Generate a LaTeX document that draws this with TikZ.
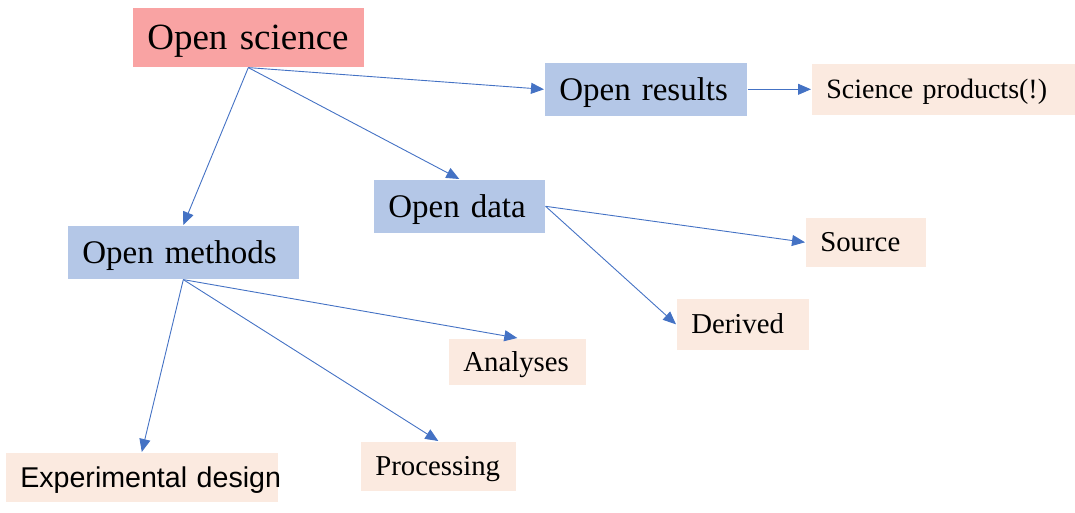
\documentclass[tikz,border=0pt]{standalone}
\usepackage{fontspec}
\setmainfont{Liberation Serif}
\newfontfamily\arialf{Liberation Sans}
\usetikzlibrary{arrows.meta}
\definecolor{pinkfill}{HTML}{F9A3A3}
\definecolor{bluefill}{HTML}{B4C7E7}
\definecolor{peachfill}{HTML}{FBEAE0}
\definecolor{arrowblue}{HTML}{4472C4}
\begin{document}
\begin{tikzpicture}[x=1pt,y=-1pt,
  box/.style={anchor=north west, draw=white, line width=0.6pt, inner xsep=15pt, inner ysep=0pt, text depth=0pt, align=left},
  bigbox/.style={box, font=\fontsize{33}{40}\selectfont, text height=21.8pt, fill=bluefill},
  smallbox/.style={box, font=\fontsize{28.8}{34}\selectfont, text height=19pt, fill=peachfill},
  conn/.style={draw=arrowblue, line width=0.9pt, -{Triangle[length=13pt,width=11pt]}}]
\useasboundingbox (0,0) rectangle (1075,512);
\node[box, fill=pinkfill, font=\fontsize{37}{44}\selectfont, text height=24.5pt, minimum height=60pt, text width=202pt] (os) at (132,7) {\mbox{Open science}};
\node[bigbox, minimum height=54pt, text width=173pt] (or) at (544,62) {\mbox{Open results}};
\node[smallbox, font=\fontsize{28}{34}\selectfont, text height=18.5pt, minimum height=52pt, text width=234pt] (sp) at (811,63) {\mbox{Science products(!)}};
\node[bigbox, minimum height=54pt, text width=142pt] (od) at (373,179) {\mbox{Open data}};
\node[bigbox, minimum height=54pt, text width=202pt] (om) at (67,225) {\mbox{Open methods}};
\node[smallbox, minimum height=50pt, text width=91pt] (src) at (805,217) {\mbox{Source}};
\node[smallbox, minimum height=52pt, text width=103pt] (der) at (676,298) {\mbox{Derived}};
\node[smallbox, minimum height=47pt, text width=108pt] (an) at (448,338) {\mbox{Analyses}};
\node[smallbox, minimum height=50pt, text width=126pt] (proc) at (360,441) {\mbox{Processing}};
\node[smallbox, font=\fontsize{28.6}{34}\arialf\selectfont, text height=20.5pt, minimum height=50pt, text width=243pt] (ed) at (5,452) {\mbox{Experimental design}};
\draw[conn] (os.south) -- (or.west);
\draw[conn] (os.south) -- (od.north);
\draw[conn] (os.south) -- (om.north);
\draw[conn] (or.east) -- (sp.west);
\draw[conn] (od.east) -- (src.west);
\draw[conn] (od.east) -- (der.west);
\draw[conn] (om.south) -- (an.north);
\draw[conn] (om.south) -- (proc.north);
\draw[conn] (om.south) -- (ed.north);
\end{tikzpicture}
\end{document}
